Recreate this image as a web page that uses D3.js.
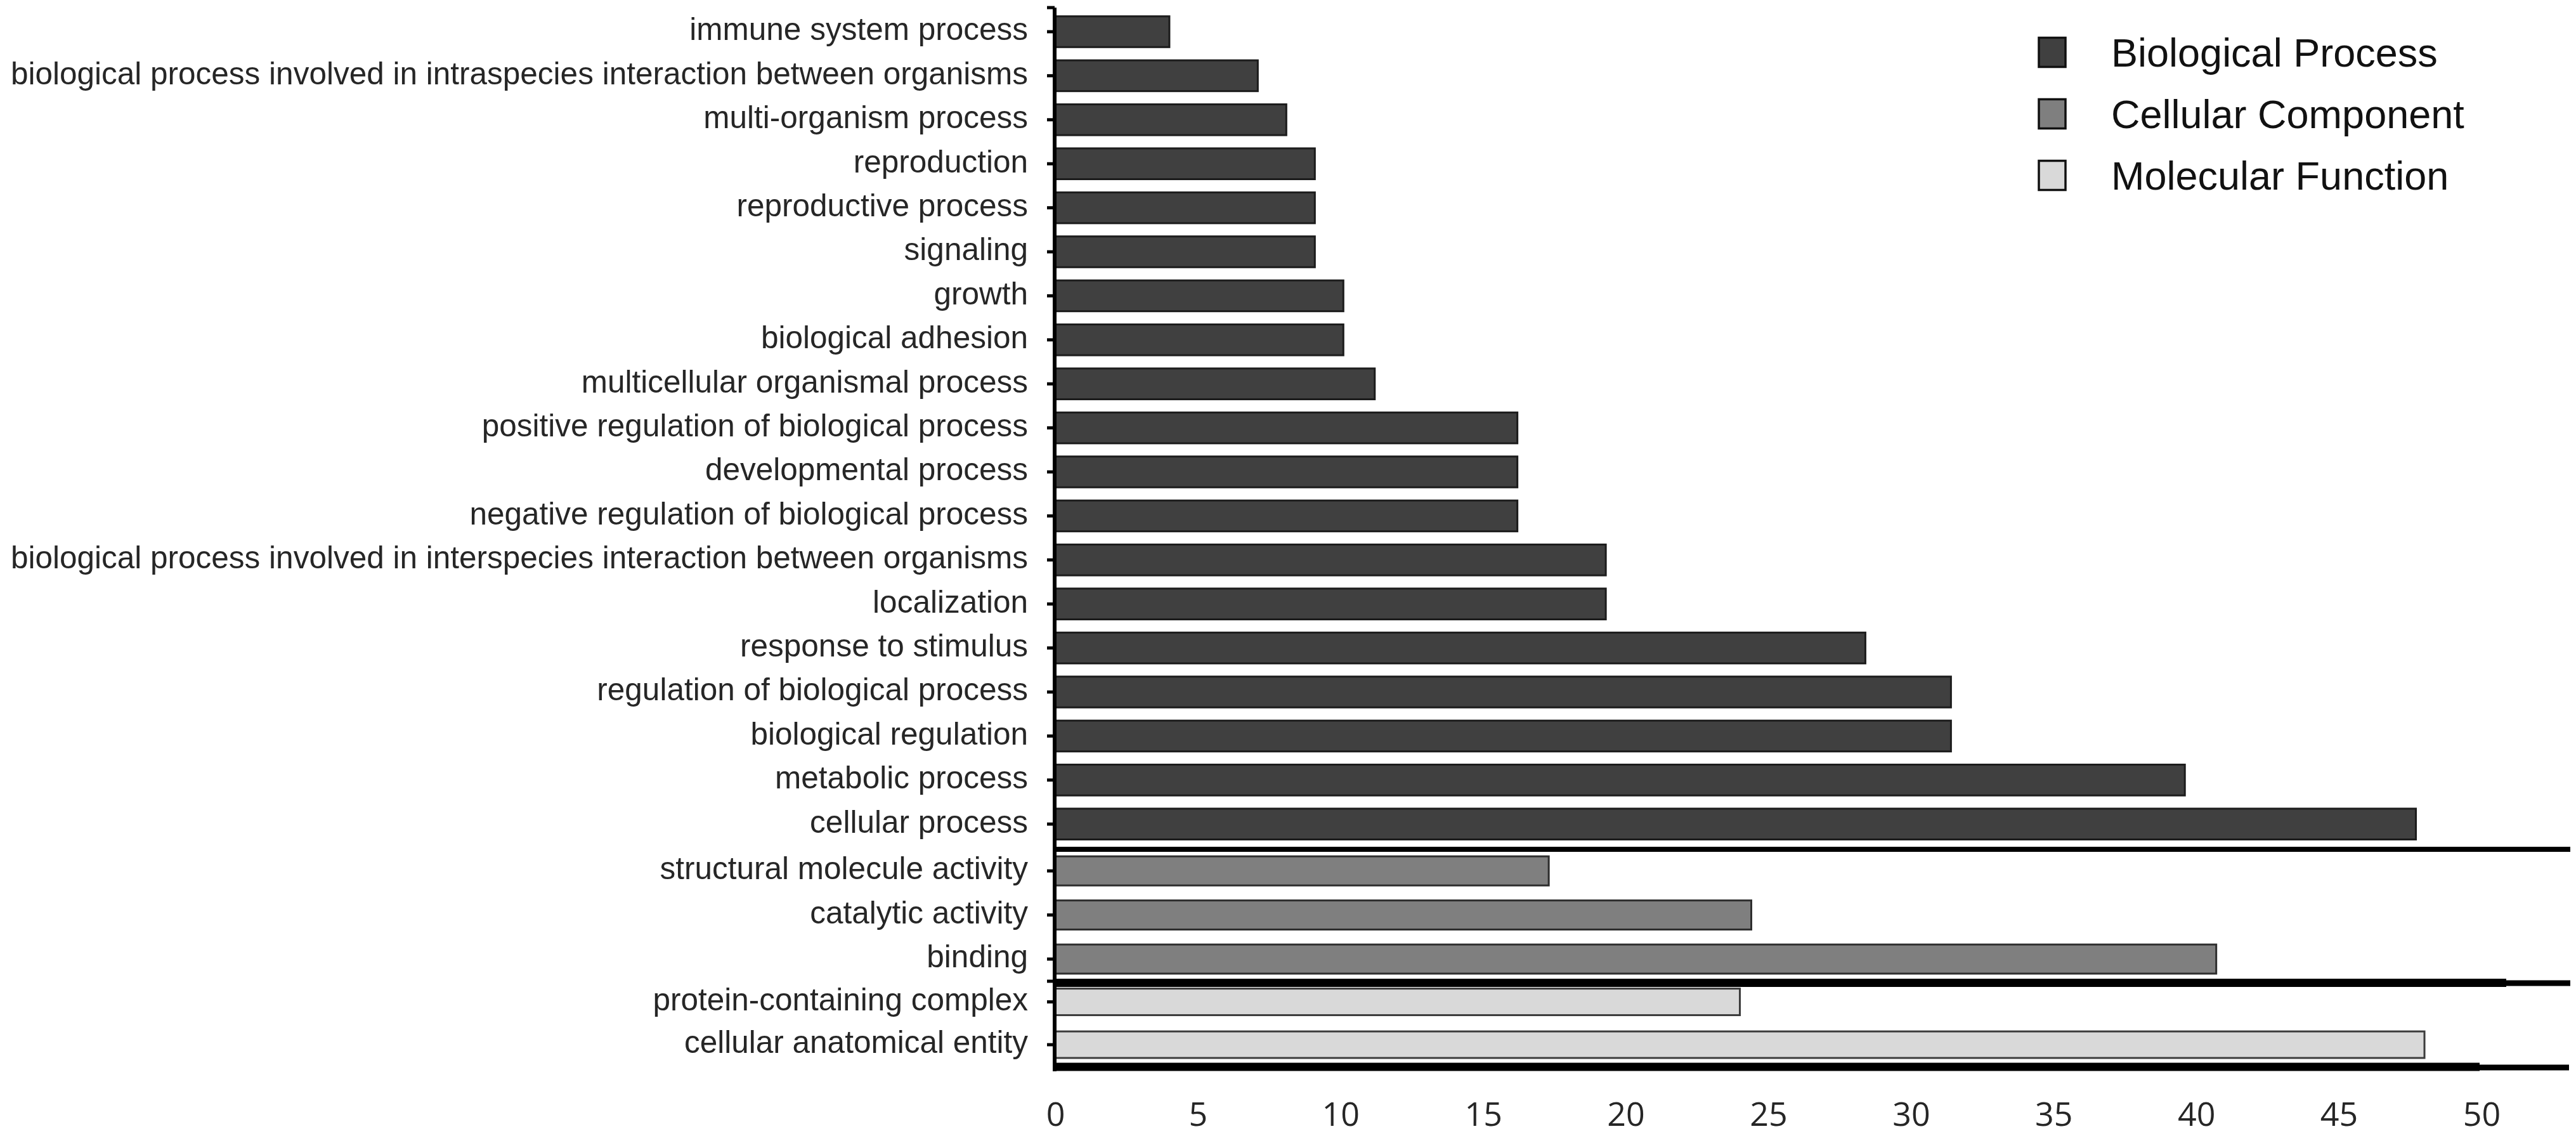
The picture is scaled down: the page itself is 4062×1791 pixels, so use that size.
<!DOCTYPE html>
<html>
<head>
<meta charset="utf-8">
<script src="https://cdn.jsdelivr.net/npm/d3@7"></script>
<style>
  html, body { margin: 0; padding: 0; background: #ffffff; }
  svg { display: block; }
</style>
</head>
<body>
<svg id="chart" width="4062" height="1791"></svg>
<script>
// ---------------- DATA ----------------
const bpCategories = [
  "immune system process",
  "biological process involved in intraspecies interaction between organisms",
  "multi-organism process",
  "reproduction",
  "reproductive process",
  "signaling",
  "growth",
  "biological adhesion",
  "multicellular organismal process",
  "positive regulation of biological process",
  "developmental process",
  "negative regulation of biological process",
  "biological process involved in interspecies interaction between organisms",
  "localization",
  "response to stimulus",
  "regulation of biological process",
  "biological regulation",
  "metabolic process",
  "cellular process"
];
const bpValues = [4.0, 7.1, 8.1, 9.1, 9.1, 9.1, 10.1, 10.1, 11.2, 16.2, 16.2, 16.2, 19.3, 19.3, 28.4, 31.4, 31.4, 39.6, 47.7];

const ccCategories = ["structural molecule activity", "catalytic activity", "binding"];
const ccValues = [17.3, 24.4, 40.7];

const mfCategories = ["protein-containing complex", "cellular anatomical entity"];
const mfValues = [24.0, 48.0];

const xTicks = [0, 5, 10, 15, 20, 25, 30, 35, 40, 45, 50];
const legendLabels = ["Biological Process", "Cellular Component", "Molecular Function"];

// ---------------- LAYOUT ----------------
const svg = d3.select("#chart");
const axisX = 1663;
const labelFont = "Liberation Sans, Arial, sans-serif";

const x = d3.scaleLinear().domain([0, 50]).range([1664, 3913]);

const colors = ["#404040", "#7f7f7f", "#d9d9d9"];
const strokes = ["#1c1c1c", "#2e2e2e", "#3c3c3c"];

const panels = [
  { cats: bpCategories, vals: bpValues, y0: 15.3, y1: 1333.9, pin: 0.30,
    lines: [{ y: 1339, w: 8, end: 4053 }] },
  { cats: ccCategories, vals: ccValues, y0: 1338.3, y1: 1546.8, pin: 0.34,
    lines: [{ y: 1550, w: 9, end: 4053 }, { y: 1549.5, w: 13, end: 3952 }] },
  { cats: mfCategories, vals: mfValues, y0: 1545.8, y1: 1680.8, pin: 0.38,
    lines: [{ y: 1683, w: 9, end: 4051 }, { y: 1682, w: 13, end: 3910 }] }
];

panels.forEach((p, pi) => {
  const y = d3.scaleBand()
    .domain(p.cats.map((c, i) => i))
    .range([p.y0, p.y1])
    .paddingInner(p.pin)
    .paddingOuter(p.pin / 2);

  const g = svg.append("g");

  // bars
  g.selectAll("rect.bar")
    .data(p.vals)
    .join("rect")
    .attr("class", "bar")
    .attr("x", x(0))
    .attr("y", (d, i) => y(i))
    .attr("width", d => x(d) - x(0))
    .attr("height", y.bandwidth())
    .attr("fill", colors[pi])
    .attr("stroke", strokes[pi])
    .attr("stroke-width", 3);

  // category axis (ticks + labels)
  const yAxis = d3.axisLeft(y)
    .tickFormat(i => p.cats[i])
    .tickSize(12)
    .tickSizeOuter(0)
    .tickPadding(30);
  const ga = svg.append("g")
    .attr("transform", `translate(${axisX},0)`)
    .call(yAxis);
  ga.select(".domain").remove();
  ga.selectAll(".tick line").attr("stroke", "#000").attr("stroke-width", 5);
  ga.selectAll(".tick text")
    .attr("font-family", labelFont)
    .attr("font-size", 49.5)
    .attr("fill", "#262626")
    .attr("dy", "0.27em");

  // panel bottom lines
  p.lines.forEach(l => {
    svg.append("line")
      .attr("x1", axisX).attr("x2", l.end)
      .attr("y1", l.y).attr("y2", l.y)
      .attr("stroke", "#000")
      .attr("stroke-width", l.w);
  });
});

// vertical axis line
svg.append("line")
  .attr("x1", axisX).attr("x2", axisX)
  .attr("y1", 12).attr("y2", 1689)
  .attr("stroke", "#000").attr("stroke-width", 6);

// small ticks at top of first and third panels
[12, 1547].forEach(ty => {
  svg.append("line")
    .attr("x1", axisX - 12).attr("x2", axisX)
    .attr("y1", ty).attr("y2", ty)
    .attr("stroke", "#000").attr("stroke-width", 5);
});

// x axis tick labels
const xAxis = d3.axisBottom(x).tickValues(xTicks).tickSize(0).tickPadding(0).tickFormat(d3.format("d"));
const gx = svg.append("g")
  .attr("transform", "translate(0,1738)")
  .call(xAxis);
gx.select(".domain").remove();
gx.selectAll(".tick text")
  .attr("font-family", "Open Sans, Noto Sans, sans-serif")
  .attr("font-size", 52)
  .attr("fill", "#262626")
  .attr("y", 0)
  .attr("dy", "0.72em");

// legend
const legendY = d3.scaleBand().domain(legendLabels).range([34, 325]);
const lg = svg.append("g");
lg.selectAll("rect")
  .data(legendLabels)
  .join("rect")
  .attr("x", 3215)
  .attr("y", d => legendY(d) + legendY.bandwidth() / 2 - 23)
  .attr("width", 42)
  .attr("height", 46)
  .attr("fill", (d, i) => colors[i])
  .attr("stroke", "#111")
  .attr("stroke-width", 3.5);
lg.selectAll("text")
  .data(legendLabels)
  .join("text")
  .attr("x", 3329)
  .attr("y", d => legendY(d) + legendY.bandwidth() / 2)
  .attr("dy", "0.36em")
  .attr("font-family", labelFont)
  .attr("font-size", 63)
  .attr("fill", "#111")
  .text(d => d);
</script>
</body>
</html>
